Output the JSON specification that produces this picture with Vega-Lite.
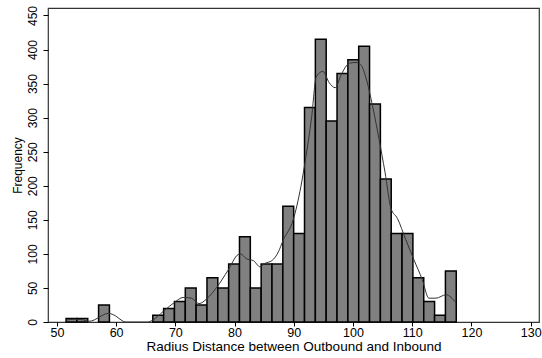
{
  "$schema": "https://vega.github.io/schema/vega-lite/v6.json",
  "autosize": {"type": "none"},
  "width": 491,
  "height": 314,
  "padding": {"left": 48, "top": 8, "right": 3, "bottom": 36},
  "background": "white",
  "config": {
    "view": {"stroke": "#333333", "strokeWidth": 1.2},
    "font": "Liberation Sans",
    "axis": {"grid": false, "domain": false, "labelOverlap": false, "tickColor": "#000000", "labelColor": "#000000", "titleColor": "#000000", "labelFont": "Liberation Sans", "titleFont": "Liberation Sans", "titleFontWeight": "normal"}
  },
  "datasets": {
    "bins": [
      {"x0": 51.55, "x1": 53.38, "count": 5},
      {"x0": 53.38, "x1": 55.21, "count": 5},
      {"x0": 57.04, "x1": 58.87, "count": 25},
      {"x0": 66.19, "x1": 68.02, "count": 10},
      {"x0": 68.02, "x1": 69.85, "count": 20},
      {"x0": 69.85, "x1": 71.68, "count": 30},
      {"x0": 71.68, "x1": 73.51, "count": 50},
      {"x0": 73.51, "x1": 75.34, "count": 25},
      {"x0": 75.34, "x1": 77.17, "count": 65},
      {"x0": 77.17, "x1": 79.0, "count": 50},
      {"x0": 79.0, "x1": 80.83, "count": 85},
      {"x0": 80.83, "x1": 82.66, "count": 125},
      {"x0": 82.66, "x1": 84.49, "count": 50},
      {"x0": 84.49, "x1": 86.32, "count": 85},
      {"x0": 86.32, "x1": 88.15, "count": 85},
      {"x0": 88.15, "x1": 89.98, "count": 170},
      {"x0": 89.98, "x1": 91.81, "count": 130},
      {"x0": 91.81, "x1": 93.64, "count": 315},
      {"x0": 93.64, "x1": 95.47, "count": 415},
      {"x0": 95.47, "x1": 97.3, "count": 295},
      {"x0": 97.3, "x1": 99.13, "count": 365},
      {"x0": 99.13, "x1": 100.96, "count": 385},
      {"x0": 100.96, "x1": 102.79, "count": 405},
      {"x0": 102.79, "x1": 104.62, "count": 320},
      {"x0": 104.62, "x1": 106.45, "count": 210},
      {"x0": 106.45, "x1": 108.28, "count": 130},
      {"x0": 108.28, "x1": 110.11, "count": 130},
      {"x0": 110.11, "x1": 111.94, "count": 65},
      {"x0": 111.94, "x1": 113.77, "count": 30},
      {"x0": 113.77, "x1": 115.6, "count": 10},
      {"x0": 115.6, "x1": 117.43, "count": 75}
    ],
    "kde": [
      {"x": 51.6, "y": 3}, {"x": 53.0, "y": 4}, {"x": 54.5, "y": 3}, {"x": 55.4, "y": 1},
      {"x": 56.3, "y": 3}, {"x": 57.5, "y": 9}, {"x": 58.7, "y": 12.7}, {"x": 59.9, "y": 9},
      {"x": 61.0, "y": 2}, {"x": 61.6, "y": 0}, {"x": 65.3, "y": 0}, {"x": 65.8, "y": 1},
      {"x": 67.0, "y": 8}, {"x": 68.0, "y": 16}, {"x": 69.0, "y": 23}, {"x": 69.9, "y": 29},
      {"x": 71.3, "y": 36}, {"x": 72.7, "y": 35}, {"x": 74.0, "y": 27}, {"x": 75.3, "y": 34},
      {"x": 77.0, "y": 51}, {"x": 78.9, "y": 76}, {"x": 80.6, "y": 99}, {"x": 81.0, "y": 100},
      {"x": 82.0, "y": 93}, {"x": 83.2, "y": 90}, {"x": 84.3, "y": 81}, {"x": 85.1, "y": 86},
      {"x": 86.3, "y": 90}, {"x": 87.4, "y": 103}, {"x": 88.2, "y": 120}, {"x": 89.9, "y": 150},
      {"x": 91.2, "y": 199}, {"x": 92.0, "y": 240}, {"x": 93.0, "y": 300}, {"x": 93.8, "y": 360},
      {"x": 94.9, "y": 368}, {"x": 96.0, "y": 351}, {"x": 97.0, "y": 344}, {"x": 98.0, "y": 363},
      {"x": 99.4, "y": 380}, {"x": 100.5, "y": 381}, {"x": 101.3, "y": 378}, {"x": 102.2, "y": 358},
      {"x": 103.3, "y": 317}, {"x": 104.4, "y": 268}, {"x": 105.4, "y": 220}, {"x": 106.4, "y": 167},
      {"x": 107.5, "y": 152}, {"x": 108.9, "y": 121}, {"x": 110.3, "y": 91}, {"x": 111.7, "y": 62},
      {"x": 112.8, "y": 35}, {"x": 114.0, "y": 35}, {"x": 115.7, "y": 40}, {"x": 117.4, "y": 28}
    ]
  },
  "layer": [
    {
      "data": {"name": "bins"},
      "mark": {"type": "rect", "fill": "#808080", "stroke": "#000000", "strokeWidth": 1.5},
      "encoding": {
        "x": {"field": "x0", "type": "quantitative",
              "scale": {"domain": [48.5, 131.4], "nice": false, "zero": false},
              "axis": {"values": [50, 60, 70, 80, 90, 100, 110, 120, 130], "labelOverlap": false, "labelFlush": false, "tickSize": 4, "labelPadding": 0, "labelFontSize": 12.5, "title": "Radius Distance between Outbound and Inbound", "titleFontSize": 13.5, "titlePadding": 1}},
        "x2": {"field": "x1"},
        "y": {"field": "count", "type": "quantitative",
              "scale": {"domain": [0, 461], "nice": false},
              "axis": {"values": [0, 50, 100, 150, 200, 250, 300, 350, 400, 450], "labelOverlap": false, "labelFlush": false, "labelBound": false, "tickSize": 5, "labelAngle": 270, "labelAlign": "center", "labelBaseline": "bottom", "labelPadding": 4, "labelFontSize": 12, "title": "Frequency", "titleFontSize": 12, "titlePadding": 2}},
        "y2": {"datum": 0}
      }
    },
    {
      "data": {"name": "kde"},
      "mark": {"type": "line", "stroke": "#333333", "strokeWidth": 1, "interpolate": "monotone"},
      "encoding": {
        "x": {"field": "x", "type": "quantitative",
              "axis": {"values": [50, 60, 70, 80, 90, 100, 110, 120, 130], "labelOverlap": false, "labelFlush": false, "tickSize": 4, "labelPadding": 0, "labelFontSize": 12.5, "title": "Radius Distance between Outbound and Inbound", "titleFontSize": 13.5, "titlePadding": 1}},
        "y": {"field": "y", "type": "quantitative",
              "axis": {"values": [0, 50, 100, 150, 200, 250, 300, 350, 400, 450], "labelOverlap": false, "labelFlush": false, "labelBound": false, "tickSize": 5, "labelAngle": 270, "labelAlign": "center", "labelBaseline": "bottom", "labelPadding": 4, "labelFontSize": 12, "title": "Frequency", "titleFontSize": 12, "titlePadding": 2}}
      }
    }
  ]
}
